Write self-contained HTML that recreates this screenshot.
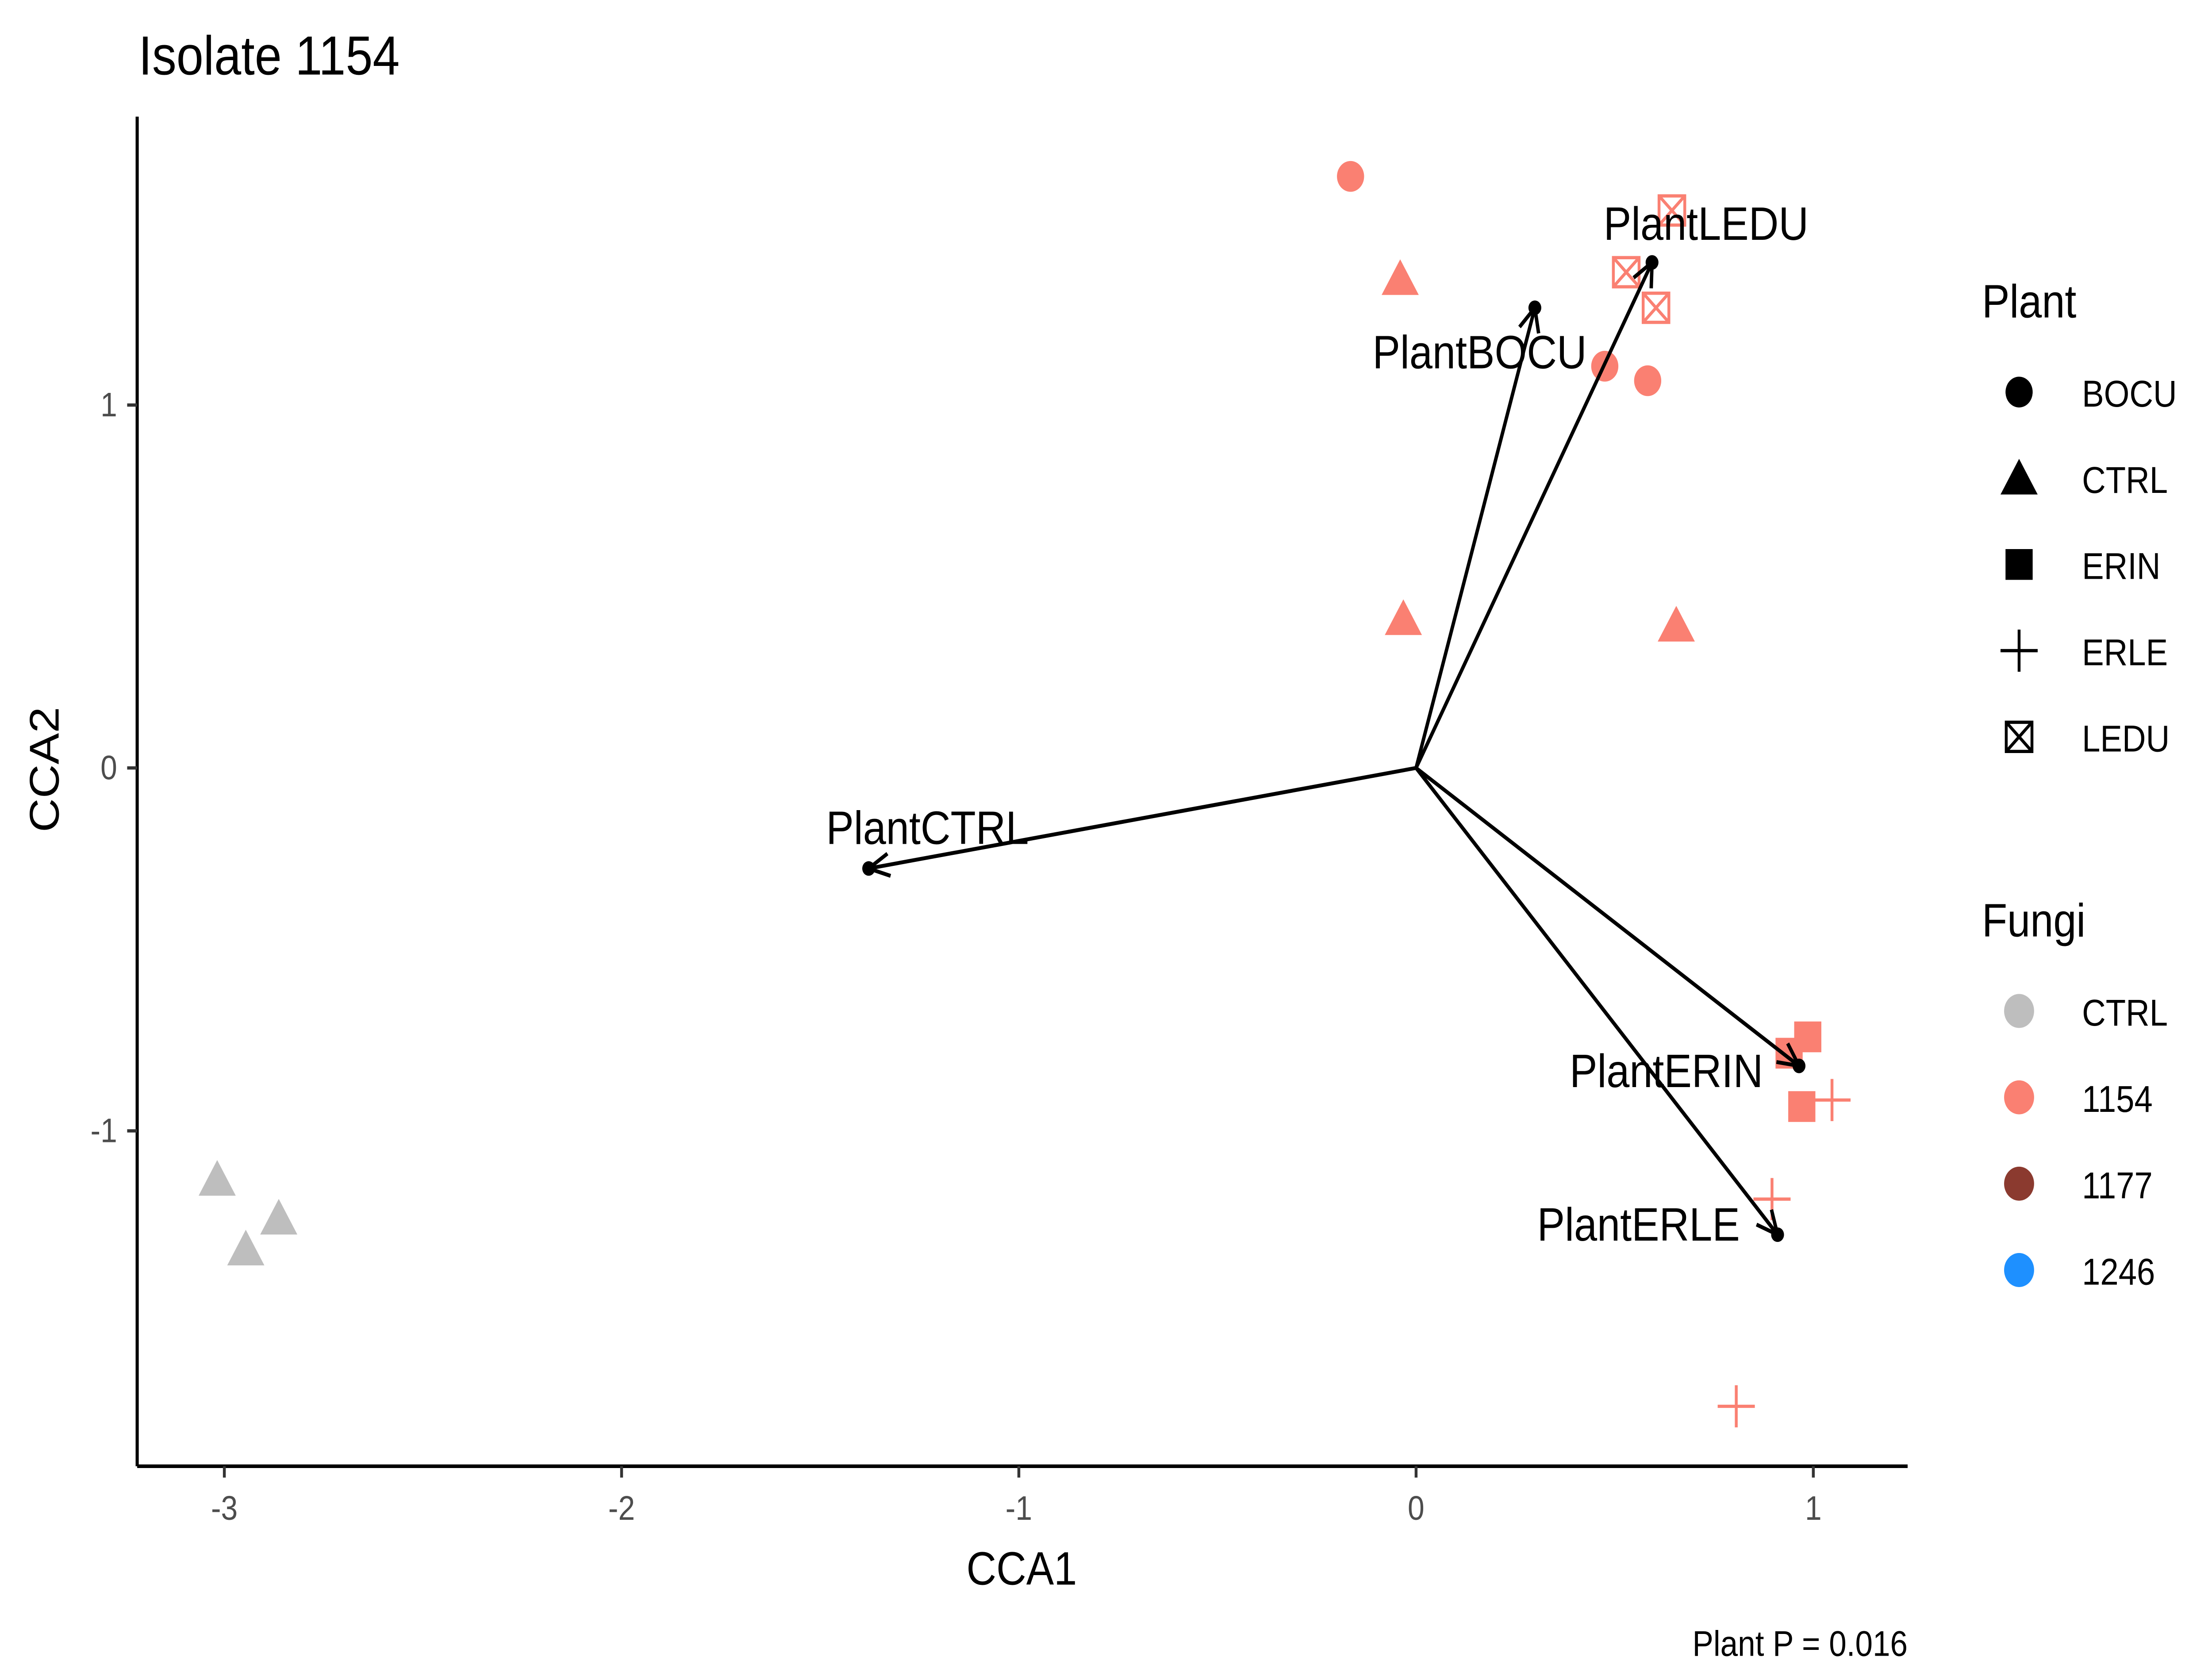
<!DOCTYPE html>
<html><head><meta charset="utf-8"><style>
html,body{margin:0;padding:0;background:#fff;width:100%;height:100%;overflow:hidden;}
svg{display:block;font-family:"Liberation Sans",sans-serif;position:absolute;left:0;top:0;width:100vw;height:100vh;}
</style></head><body>
<svg id="chart" viewBox="0 0 1548 1032" preserveAspectRatio="none" xmlns="http://www.w3.org/2000/svg">
<text x="97" y="46" font-size="34">Isolate 1154</text>
<g id="plot"></g>
<line x1="96" y1="905" x2="1335" y2="905" stroke="#000" stroke-width="2.2"/>
<line x1="96" y1="72" x2="96" y2="905" stroke="#000" stroke-width="2.2"/>
<g id="xticks"></g>
<g id="yticks"></g>
<text x="715" y="978" font-size="29" text-anchor="middle">CCA1</text>
<text transform="translate(41,475) rotate(-90)" font-size="29" text-anchor="middle">CCA2</text>
<text x="1335" y="1022" font-size="22" text-anchor="end">Plant P = 0.016</text>
<g id="legend"></g>
</svg>
<script>
const xTicks = [-3, -2, -1, 0, 1];
const yTicks = [-1, 0, 1];
const ptX = [-0.165, 0.475, 0.583, -0.04, -0.032, 0.655, 0.644, 0.529, 0.604, 0.986, 0.971, 0.939, 1.047, 0.896, 0.806, -3.018, -2.863, -2.946];
const ptY = [1.63, 1.107, 1.067, 1.348, 0.411, 0.393, 1.536, 1.366, 1.268, -0.741, -0.933, -0.786, -0.915, -1.188, -1.759, -1.134, -1.241, -1.326];
const ptPlant = ["BOCU","BOCU","BOCU","CTRL","CTRL","CTRL","LEDU","LEDU","LEDU","ERIN","ERIN","ERIN","ERLE","ERLE","ERLE","CTRL","CTRL","CTRL"];
const ptFungi = ["1154","1154","1154","1154","1154","1154","1154","1154","1154","1154","1154","1154","1154","1154","1154","CTRL","CTRL","CTRL"];
const arrowNames = ["PlantBOCU","PlantLEDU","PlantCTRL","PlantERIN","PlantERLE"];
const arrowX = [0.299, 0.594, -1.378, 0.964, 0.910];
const arrowY = [1.268, 1.393, -0.277, -0.821, -1.286];
const labelX = [0.16, 0.73, -1.23, 0.63, 0.56];
const labelY = [1.146, 1.50, -0.165, -0.835, -1.258];
const plantLevels = ["BOCU","CTRL","ERIN","ERLE","LEDU"];
const fungiLevels = ["CTRL","1154","1177","1246"];
const fungiColors = {"CTRL":"#BEBEBE","1154":"#FA8072","1177":"#8B3A2F","1246":"#1E90FF"};

const NS = "http://www.w3.org/2000/svg";
const sx = v => 991 + v * 278;
const sy = v => 474 - v * 224;
function mk(tag, attrs, parent){ const e=document.createElementNS(NS,tag); for(const k in attrs) e.setAttribute(k,attrs[k]); parent.appendChild(e); return e; }

function shape(g, kind, cx, cy, col, s){
  if(kind==="BOCU") mk("circle",{cx:cx,cy:cy,r:9.5*s,fill:col},g);
  else if(kind==="CTRL") mk("polygon",{points:`${cx},${cy-12*s} ${cx+13*s},${cy+10*s} ${cx-13*s},${cy+10*s}`,fill:col},g);
  else if(kind==="ERIN") mk("rect",{x:cx-9.5*s,y:cy-9.5*s,width:19*s,height:19*s,fill:col},g);
  else if(kind==="ERLE"){ mk("path",{d:`M${cx-13*s},${cy}H${cx+13*s}M${cx},${cy-13*s}V${cy+13*s}`,stroke:col,"stroke-width":2,fill:"none"},g); }
  else if(kind==="LEDU"){ const h=9*s; mk("path",{d:`M${cx-h},${cy-h}H${cx+h}V${cy+h}H${cx-h}ZM${cx-h},${cy-h}L${cx+h},${cy+h}M${cx+h},${cy-h}L${cx-h},${cy+h}`,stroke:col,"stroke-width":2,fill:"none"},g); }
}

const xg=document.getElementById('xticks');
xTicks.forEach(t=>{
  const l=mk("line",{x1:sx(t),x2:sx(t),y1:905,y2:912,stroke:"#333","stroke-width":2},xg);
  
  
  const tx=mk("text",{x:sx(t),y:938,"font-size":21,fill:"#4d4d4d","text-anchor":"middle"},xg);
  tx.textContent=t;
  
  
});
const yg=document.getElementById('yticks');
yTicks.forEach(t=>{
  const l=mk("line",{x1:89,x2:96,y1:sy(t),y2:sy(t),stroke:"#333","stroke-width":2},yg);
  
  
  const tx=mk("text",{x:82,y:sy(t)+7,"font-size":21,fill:"#4d4d4d","text-anchor":"end"},yg);
  tx.textContent=t;
  
  
});

const pg=document.getElementById('plot');
ptX.forEach((v,i)=>{
  const g=mk("g",{},pg);
  
  
  shape(g, ptPlant[i], sx(v), sy(ptY[i]), fungiColors[ptFungi[i]], 1);
});
arrowX.forEach((v,i)=>{
  const g=mk("g",{},pg);
  
  
  const x0=sx(0),y0=sy(0),x1=sx(v),y1=sy(arrowY[i]);
  mk("line",{x1:x0,y1:y0,x2:x1,y2:y1,stroke:"#000","stroke-width":2.4},g);
  const a=Math.atan2(y1-y0,x1-x0), L=16, w=0.45;
  mk("path",{d:`M${x1-L*Math.cos(a-w)},${y1-L*Math.sin(a-w)}L${x1},${y1}L${x1-L*Math.cos(a+w)},${y1-L*Math.sin(a+w)}`,stroke:"#000","stroke-width":2.4,fill:"none"},g);
  mk("circle",{cx:x1,cy:y1,r:4.5,fill:"#000"},g);
  const t=mk("text",{x:sx(labelX[i]),y:sy(labelY[i])+10,"font-size":29,"text-anchor":"middle"},g);
  t.textContent=arrowNames[i];
});

const lg=document.getElementById('legend');
const t1=mk("text",{x:1387,y:196,"font-size":29},lg); t1.textContent="Plant";


plantLevels.forEach((p,i)=>{
  const y=242+i*53.2;
  const g=mk("g",{},lg);
  
  
  shape(g,p,1413,y,"#000",1);
  const t=mk("text",{x:1457,y:y+9,"font-size":23},g); t.textContent=p;
});
const t2=mk("text",{x:1387,y:578,"font-size":29},lg); t2.textContent="Fungi";


fungiLevels.forEach((f,i)=>{
  const y=624+i*53.3;
  const g=mk("g",{},lg);
  
  
  mk("circle",{cx:1413,cy:y,r:10.5,fill:fungiColors[f]},g);
  const t=mk("text",{x:1457,y:y+9,"font-size":23},g); t.textContent=f;
});
</script>
</body></html>
